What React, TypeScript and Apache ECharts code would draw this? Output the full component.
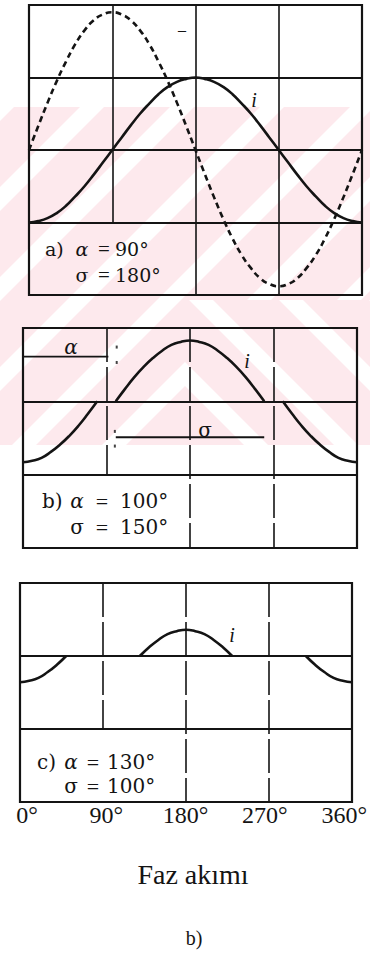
import React, { useEffect, useRef } from "react";
import * as echarts from "echarts";

// Phase angle samples (degrees) shared by all three waveforms
const angles = [
  0, 10, 20, 30, 40, 50, 60, 70, 80, 90, 100, 110, 120, 130, 140, 150, 160, 170, 180,
  190, 200, 210, 220, 230, 240, 250, 260, 270, 280, 290, 300, 310, 320, 330, 340, 350, 360,
];

// a) supply voltage (dashed) and phase current, α = 90°
const voltageA = [
  0, 0.33, 0.65, 0.95, 1.22, 1.46, 1.65, 1.79, 1.87, 1.9, 1.87, 1.79, 1.65, 1.46, 1.22, 0.95, 0.65, 0.33, 0,
  -0.33, -0.65, -0.95, -1.22, -1.45, -1.63, -1.77, -1.85, -1.88, -1.85, -1.77, -1.63, -1.45, -1.22, -0.95, -0.65, -0.33, 0,
];
const currentA = [
  -1, -0.98, -0.94, -0.87, -0.77, -0.64, -0.5, -0.34, -0.17, 0, 0.17, 0.34, 0.5, 0.64, 0.77, 0.87, 0.94, 0.98, 1,
  0.98, 0.94, 0.87, 0.77, 0.64, 0.5, 0.34, 0.17, 0, -0.17, -0.34, -0.5, -0.64, -0.77, -0.87, -0.94, -0.98, -1,
];
// b) α = 100°  (null = thyristor blocked, current stays at zero)
const currentB = [
  -0.83, -0.81, -0.77, -0.69, -0.59, -0.47, -0.33, -0.17, 0, null, 0, 0.17, 0.33, 0.47, 0.59, 0.69, 0.77, 0.81, 0.83,
  0.81, 0.77, 0.69, 0.59, 0.47, 0.33, 0.17, 0, null, 0, -0.17, -0.33, -0.47, -0.59, -0.69, -0.77, -0.81, -0.83,
];
// c) α = 130°
const currentC = [
  -0.36, -0.34, -0.3, -0.22, -0.12, 0, null, null, null, null, null, null, null, 0, 0.12, 0.22, 0.3, 0.34, 0.36,
  0.34, 0.3, 0.22, 0.12, 0, null, null, null, null, null, null, null, 0, -0.12, -0.22, -0.3, -0.34, -0.36,
];

// α and σ dimension lines drawn in panel b
const alphaSpanB = [0, 92];
const alphaLevelB = 0.61;
const sigmaSpanB = [100, 260];
const sigmaLevelB = -0.49;
const markerDotsB = [
  [101, 0.74],
  [101, 0.53],
  [99, -0.41],
  [99, -0.61],
];

// vertical grid lines; the 90° one stops above the caption row
const verticalDegrees = [90, 180, 270];
const shortVertical = 90;

const tickDegrees = [0, 90, 180, 270, 360];
const tickLabels = ["0°", "90°", "180°", "270°", "360°"];

const panelNames = ["a)", "b)", "c)"];
const alphaTexts = ["90°", "100°", "130°"];
const sigmaTexts = ["180°", "150°", "100°"];

const INK = "#141414";
const PINK = "#fde9ed";

type Pt = [number, number];

// Sutherland–Hodgman clip of a polygon to an axis-aligned rectangle
function clipRect(poly: Pt[], x0: number, y0: number, x1: number, y1: number): Pt[] {
  const edges: Array<[(p: Pt) => boolean, (a: Pt, b: Pt) => Pt]> = [
    [(p) => p[0] >= x0, (a, b) => { const t = (x0 - a[0]) / (b[0] - a[0]); return [x0, a[1] + t * (b[1] - a[1])]; }],
    [(p) => p[0] <= x1, (a, b) => { const t = (x1 - a[0]) / (b[0] - a[0]); return [x1, a[1] + t * (b[1] - a[1])]; }],
    [(p) => p[1] >= y0, (a, b) => { const t = (y0 - a[1]) / (b[1] - a[1]); return [a[0] + t * (b[0] - a[0]), y0]; }],
    [(p) => p[1] <= y1, (a, b) => { const t = (y1 - a[1]) / (b[1] - a[1]); return [a[0] + t * (b[0] - a[0]), y1]; }],
  ];
  let out = poly;
  for (const [inside, cut] of edges) {
    const src = out;
    out = [];
    for (let i = 0; i < src.length; i++) {
      const cur = src[i];
      const prev = src[(i + src.length - 1) % src.length];
      if (inside(cur)) {
        if (!inside(prev)) out.push(cut(prev, cur));
        out.push(cur);
      } else if (inside(prev)) {
        out.push(cut(prev, cur));
      }
    }
    if (!out.length) break;
  }
  return out;
}

// Pale striped background band behind the upper panels
function backdrop(): any[] {
  const els: any[] = [
    { type: "rect", z: -20, silent: true, shape: { x: 0, y: 107, width: 370, height: 338 }, style: { fill: PINK } },
  ];
  const w = 24;
  const polys: Pt[][] = [];
  for (let s = 457 - 90 * 8; s < 900; s += 90) {
    // "/" stripes over the upper band
    polys.push(clipRect([[s - 107, 107], [s + w - 107, 107], [s + w - 300, 300], [s - 300, 300]], 0, 107, 370, 300));
    // lower band: "/" on the left half, mirrored "\" on the right half
    polys.push(clipRect([[s - 300, 300], [s + w - 300, 300], [s + w - 445, 445], [s - 445, 445]], 0, 300, 185, 445));
    const m = 370 - s;
    polys.push(clipRect([[m + 300 - w, 300], [m + 300, 300], [m + 445, 445], [m + 445 - w, 445]], 185, 300, 370, 445));
  }
  for (const p of polys) {
    if (p.length >= 3) {
      els.push({ type: "polygon", z: -19, silent: true, shape: { points: p }, style: { fill: "#ffffff" } });
    }
  }
  return els;
}

function txt(text: string, x: number, y: number, font: string, align: string = "left"): any {
  return {
    type: "text",
    x,
    y,
    z: 20,
    silent: true,
    style: { text, font, fill: INK, align, verticalAlign: "middle" },
  };
}

const pairs = (vals: Array<number | null>) => angles.map((a, i) => [a, vals[i] === null ? "-" : vals[i]]);

export default function App() {
  const ref = useRef<HTMLDivElement>(null);

  useEffect(() => {
    if (!ref.current) return;
    const chart = echarts.init(ref.current, null, { renderer: "svg" });

    const grids = [
      { left: 29, top: 5, width: 333, height: 290 },
      { left: 23, top: 328, width: 334, height: 220 },
      { left: 20, top: 583, width: 332, height: 219 },
    ];
    const yTop = [2, 1, 1];
    const yMin = [-2, -2, -2];
    const captionTop = [-1, -1, -1];

    const xAxes: any[] = grids.map((_, i) => ({
      type: "value",
      gridIndex: i,
      min: 0,
      max: 360,
      interval: 90,
      axisLine: { show: false },
      axisTick: { show: false },
      axisLabel: { show: false },
      splitLine: { show: false },
    }));
    // degree scale under the bottom panel
    xAxes.push({
      type: "value",
      gridIndex: 3,
      min: 0,
      max: 360,
      interval: 90,
      axisLine: { show: false },
      axisTick: { show: false },
      splitLine: { show: false },
      axisLabel: {
        show: true,
        margin: 1,
        color: INK,
        fontFamily: "Liberation Serif",
        fontSize: 24,
        formatter: (v: number) => tickLabels[tickDegrees.indexOf(v)] ?? "",
      },
    });

    const yAxes: any[] = grids.map((_, i) => ({
      type: "value",
      gridIndex: i,
      min: yMin[i],
      max: yTop[i],
      interval: 1,
      axisLine: { show: false },
      axisTick: { show: false },
      axisLabel: { show: false },
      splitLine: { show: true, lineStyle: { color: INK, width: 2.2 } },
    }));
    yAxes.push({ type: "value", gridIndex: 3, show: false, min: 0, max: 1 });

    const verticals = (i: number) => ({
      silent: true,
      symbol: ["none", "none"],
      label: { show: false },
      lineStyle: { color: INK, width: 1.6, type: i === 0 ? "solid" : [34, 5] },
      data: verticalDegrees.map((d) => [
        { coord: [d, yTop[i]] },
        { coord: [d, d === shortVertical ? captionTop[i] : yMin[i]] },
      ]),
    });

    const solid = { color: INK, width: 2.6 };

    const graphics: any[] = [...backdrop()];
    // panel captions
    const cap = [
      { x: 45, xs: 82, xe: 104, xv: 115, y1: 249, y2: 275, size: 19 },
      { x: 42, xs: 77, xe: 102, xv: 120, y1: 501, y2: 527, size: 20 },
      { x: 37, xs: 71, xe: 93, xv: 107, y1: 762, y2: 786, size: 20 },
    ];
    cap.forEach((c, i) => {
      const f = `${c.size}px 'DejaVu Serif'`;
      const fi = `italic ${c.size}px 'DejaVu Serif'`;
      const fe = `${c.size + 2}px 'Liberation Serif'`;
      graphics.push(txt(panelNames[i], c.x, c.y1, f));
      graphics.push(txt("α", c.xs, c.y1, fi, "center"));
      graphics.push(txt("=", c.xe, c.y1, fe, "center"));
      graphics.push(txt(alphaTexts[i], c.xv, c.y1, f));
      graphics.push(txt("σ", c.xs, c.y2, f, "center"));
      graphics.push(txt("=", c.xe, c.y2, fe, "center"));
      graphics.push(txt(sigmaTexts[i], c.xv, c.y2, f));
    });
    // curve labels
    graphics.push(txt("i", 254, 100, "italic 20px 'Liberation Serif'", "center"));
    graphics.push(txt("i", 247, 361, "italic 20px 'Liberation Serif'", "center"));
    graphics.push(txt("i", 232, 635, "italic 20px 'Liberation Serif'", "center"));
    graphics.push(txt("–", 182, 29, "16px 'Liberation Serif'", "center"));
    graphics.push(txt("α", 71, 347, "italic 20px 'DejaVu Serif'", "center"));
    graphics.push(txt("σ", 205, 430, "20px 'DejaVu Serif'", "center"));
    // axis title and figure tag
    graphics.push(txt("Faz akımı", 193, 874, "28px 'Liberation Serif'", "center"));
    graphics.push(txt("b)", 194, 938, "20px 'Liberation Serif'", "center"));

    const option: any = {
      animation: false,
      backgroundColor: "#ffffff",
      grid: [
        ...grids.map((g) => ({ ...g, show: true, borderColor: INK, borderWidth: 2.2, backgroundColor: "transparent" })),
        { left: 27, top: 801, width: 318, height: 1, show: false },
      ],
      xAxis: xAxes,
      yAxis: yAxes,
      graphic: graphics,
      series: [
        {
          type: "line",
          name: "u",
          xAxisIndex: 0,
          yAxisIndex: 0,
          data: pairs(voltageA),
          smooth: true,
          symbol: "none",
          lineStyle: { color: INK, width: 2.6, type: [6, 4] },
          z: 5,
        },
        {
          type: "line",
          name: "i a",
          xAxisIndex: 0,
          yAxisIndex: 0,
          data: pairs(currentA),
          smooth: true,
          symbol: "none",
          lineStyle: solid,
          markLine: verticals(0),
          z: 6,
        },
        {
          type: "line",
          name: "i b",
          xAxisIndex: 1,
          yAxisIndex: 1,
          data: pairs(currentB),
          smooth: true,
          connectNulls: false,
          symbol: "none",
          lineStyle: solid,
          markLine: verticals(1),
          z: 6,
        },
        {
          type: "line",
          name: "alpha",
          xAxisIndex: 1,
          yAxisIndex: 1,
          data: alphaSpanB.map((a) => [a, alphaLevelB]),
          symbol: "none",
          lineStyle: { color: INK, width: 1.8 },
        },
        {
          type: "line",
          name: "sigma",
          xAxisIndex: 1,
          yAxisIndex: 1,
          data: sigmaSpanB.map((a) => [a, sigmaLevelB]),
          symbol: "none",
          lineStyle: { color: INK, width: 1.8 },
        },
        {
          type: "scatter",
          name: "marks",
          xAxisIndex: 1,
          yAxisIndex: 1,
          data: markerDotsB,
          symbol: "rect",
          symbolSize: [2, 3],
          itemStyle: { color: INK },
        },
        {
          type: "line",
          name: "i c",
          xAxisIndex: 2,
          yAxisIndex: 2,
          data: pairs(currentC),
          smooth: true,
          connectNulls: false,
          symbol: "none",
          lineStyle: solid,
          markLine: verticals(2),
          z: 6,
        },
        {
          type: "line",
          name: "scale",
          xAxisIndex: 3,
          yAxisIndex: 3,
          data: [],
          symbol: "none",
        },
      ],
    };

    chart.setOption(option);
    return () => chart.dispose();
  }, []);

  return (
    <div
      ref={ref}
      style={{ position: "fixed", left: 0, top: 0, width: 370, height: 955, background: "#fff" }}
    />
  );
}
